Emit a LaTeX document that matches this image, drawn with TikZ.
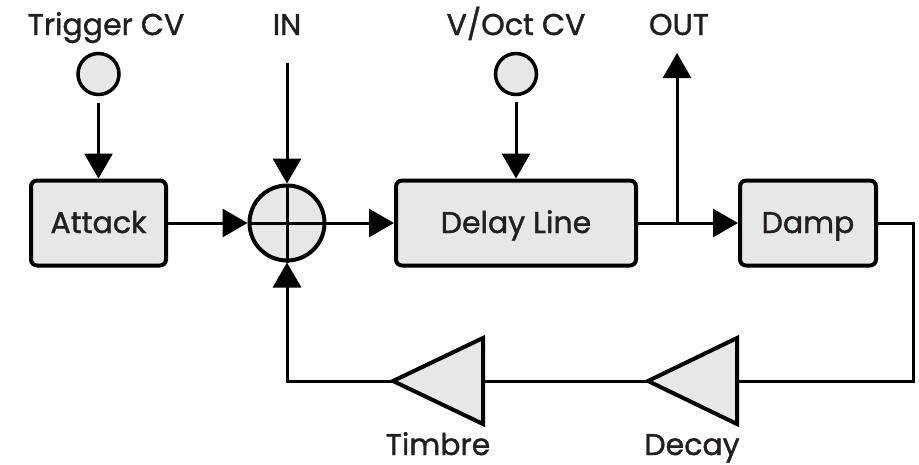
\documentclass[tikz,border=0pt]{standalone}
\usepackage{fontspec}
\setmainfont{Poppins}[RawFeature={embolden=1.3}]
\usetikzlibrary{arrows.meta}
\definecolor{boxfill}{HTML}{E6E7E8}
\definecolor{txt}{HTML}{231F20}
\tikzset{
  lbl/.style={font=\fontsize{30}{30}\selectfont, text=txt, anchor=base, inner sep=0pt},
  blockbox/.style={draw=black, fill=boxfill, line width=4pt, rounded corners=6pt, minimum height=85pt, inner sep=0pt, text height=22pt, text depth=2pt, font=\fontsize{30}{30}\selectfont, text=txt},
  jack/.style={circle, draw=black, fill=boxfill, line width=3.5pt, minimum size=41pt, inner sep=0pt},
  conn/.style={line width=3pt, draw=black},
  arr/.style={conn, -{Triangle[length=25pt,width=28pt]}},
  amp/.style={draw=black, fill=boxfill, line width=4pt, line join=miter},
}
\begin{document}
\begin{tikzpicture}[x=1pt,y=-1pt]
\useasboundingbox (0,0) rectangle (919,464);
% labels
\node[lbl] (ltrig) at (106,35) {Trigger CV};
\node[lbl] (lin) at (287,35) {IN};
\node[lbl] (lvoct) at (516,35) {V/Oct CV};
\node[lbl] (lout) at (679,35) {OUT};
% jacks
\node[jack] (jtrig) at (98.5,74) {};
\node[jack] (jvoct) at (516,74) {};
% blocks
\node[blockbox, minimum width=135pt] (attack) at (98.5,223) {Attack};
\node[blockbox, minimum width=240pt] (delay) at (516,223) {Delay Line};
\node[blockbox, minimum width=136pt] (damp) at (808,223) {Damp};
% summing junction
\node[circle, draw=black, fill=boxfill, line width=4pt, minimum size=75pt, inner sep=0pt] (sum) at (287,223) {};
\draw[conn] (sum.north) -- (sum.south);
\draw[conn] (sum.west) -- (sum.east);
% amplifiers
\draw[amp] (483,338) -- (483,424) -- (393,381) -- cycle;
\coordinate (timbreR) at (483,381);
\coordinate (timbreL) at (393,381);
\draw[amp] (737,338) -- (737,424) -- (648,381) -- cycle;
\coordinate (decayR) at (737,381);
\coordinate (decayL) at (648,381);
\node[lbl] (ltimbre) at (438,455) {Timbre};
\node[lbl] (ldecay) at (692,455) {Decay};
% helper coordinates
\coordinate (inStart) at (287,63);
\coordinate (trigStart) at (98.5,103);
\coordinate (voctStart) at (516,102);
\coordinate (outJ) at (677,223);
\coordinate (outEnd) at (677,53);
\coordinate (rc) at (913,381);
% connectors
\draw[arr] (trigStart) -- (attack.north);
\draw[arr] (voctStart) -- (delay.north);
\draw[arr] (inStart) -- (sum.north);
\draw[arr] (attack.east) -- (sum.west);
\draw[arr] (sum.east) -- (delay.west);
\draw[arr] (delay.east) -- (damp.west);
\draw[arr] (outJ) -- (outEnd);
\draw[conn] (damp.east) -| (rc) -- (decayR);
\draw[conn] (decayL) -- (timbreR);
\draw[arr] (timbreL) -| (sum.south);
\end{tikzpicture}
\end{document}
